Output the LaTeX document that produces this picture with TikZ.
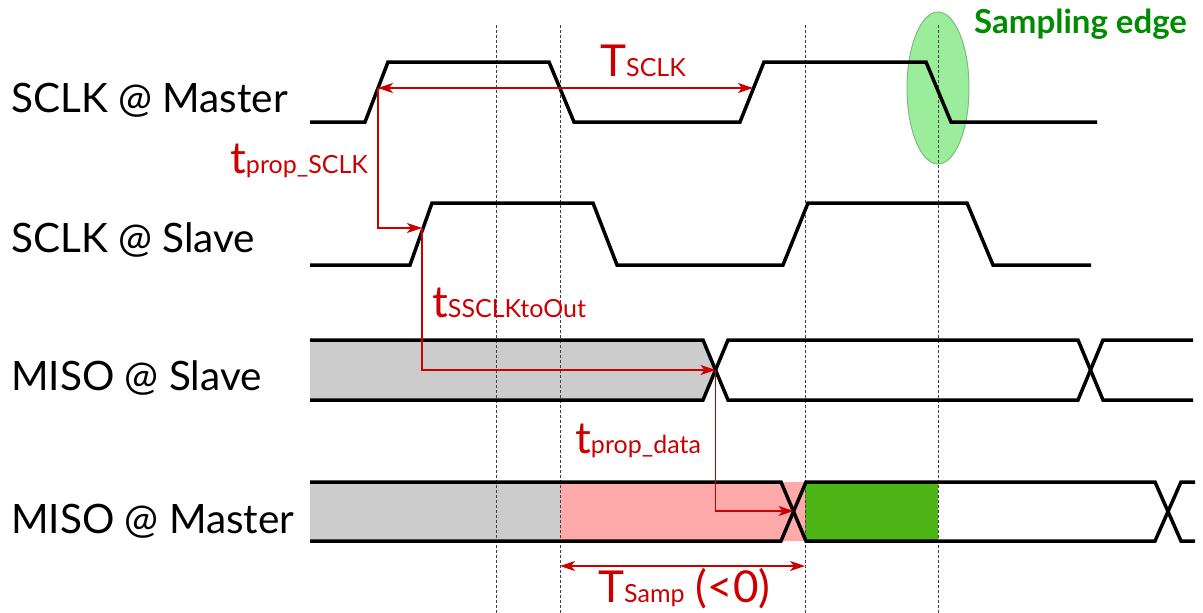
\documentclass[tikz,border=0pt]{standalone}
\usepackage{fontspec}
\setmainfont{Lato}
\usetikzlibrary{arrows.meta}

\newcommand{\siglabel}[1]{{\fontsize{40.5}{44}\selectfont #1}}
\newcommand{\tlabel}[2]{{\fontsize{44}{48}\selectfont #1}{\fontsize{25}{28}\selectfont #2}}

\begin{document}
\begin{tikzpicture}[x=1pt, y=-1pt]
        % Define colors for the zones
        \colorlet{annotcolor}{red!80!black}
        \colorlet{edgecolor}{green!55!black}
        \definecolor{holdcolor}{RGB}{204,204,204}
        \definecolor{setupcolor}{RGB}{255,170,170}
        \definecolor{validcolor}{RGB}{76,181,21}
        \definecolor{ovalcolor}{RGB}{155,236,155}

        \tikzset{
            wave/.style={line width=3.5pt},
            guide/.style={line width=0.9pt, black!75, dash pattern=on 3pt off 2pt},
            delay/.style={line width=1.3pt, annotcolor, -{Stealth[length=15pt, width=10pt, inset=4pt]}},
            span/.style={line width=1.3pt, annotcolor, {Stealth[length=15pt, width=10pt, inset=4pt]}-{Stealth[length=15pt, width=10pt, inset=4pt]}},
            lbl/.style={anchor=base west, inner sep=0pt},
        }

        \useasboundingbox[fill=white] (0,0) rectangle (1203,613);

        % 1. Data regions
        \fill[holdcolor] (310,340) -- (703,340) -- (715.5,370) -- (703,400) -- (310,400) -- cycle;
        \fill[holdcolor] (310,482) rectangle (560,541);
        \fill[setupcolor] (560,482) rectangle (805,541);
        \fill[validcolor] (805,482) rectangle (938,541);

        % Sampling edge marker
        \fill[ovalcolor, draw=ovalcolor!80!black, line width=1pt] (938,88) ellipse [x radius=31, y radius=76];
        \node[lbl, text=edgecolor, font=\fontsize{33}{36}\selectfont\bfseries] (sampedge) at (974,34) {Sampling edge};

        % Guide lines
        \foreach \gx in {496,560,805,938}
            \draw[guide] (\gx,25) -- (\gx,613);

        % 2. Signal names
        \node[lbl] (sclkm) at (11,112) {\siglabel{SCLK @ Master}};
        \node[lbl] (sclks) at (11,252) {\siglabel{SCLK @ Slave}};
        \node[lbl] (misos) at (11,390) {\siglabel{MISO @ Slave}};
        \node[lbl] (misom) at (11,533) {\siglabel{MISO @ Master}};

        % 3. Waveforms
        \draw[wave] (310,122) -- (365,122) -- (388,62) -- (549,62) -- (574,122) -- (740,122) -- (764,62) -- (926,62) -- (951,122) -- (1097,122);
        \draw[wave] (310,265) -- (410,265) -- (432,203) -- (593,203) -- (617,265) -- (783,265) -- (808,203) -- (967,203) -- (993,265) -- (1091,265);
        \draw[wave] (310,340) -- (703,340) -- (728,400) -- (1078,400) -- (1103,340) -- (1193,340);
        \draw[wave] (310,400) -- (703,400) -- (728,340) -- (1078,340) -- (1103,400) -- (1193,400);
        \draw[wave] (310,482) -- (781,482) -- (806,541) -- (1155,541) -- (1181,482) -- (1195,482);
        \draw[wave] (310,541) -- (781,541) -- (806,482) -- (1155,482) -- (1181,541) -- (1195,541);

        % 4. Timing arrows
        \coordinate (mrise) at (378,88);
        \coordinate (mnext) at (753,88);
        \coordinate (srise) at (422,228);
        \coordinate (scross) at (715.5,370);
        \coordinate (mcross) at (793.5,511);
        \coordinate (sampl) at (560,566);
        \coordinate (sampr) at (805,566);

        \draw[span] (mrise) -- (mnext);
        \draw[delay] (mrise) |- (srise);
        \draw[delay] (srise) |- (scross);
        \draw[delay] (scross) |- (mcross);
        \draw[span] (sampl) -- (sampr);

        \node[lbl, text=annotcolor] (tsclk) at (600,76) {\tlabel{T}{SCLK}};
        \node[lbl, text=annotcolor] (tprops) at (230,173) {\tlabel{t}{prop\_SCLK}};
        \node[lbl, text=annotcolor] (tout) at (432,317) {\tlabel{t}{SSCLKtoOut}};
        \node[lbl, text=annotcolor] (tpropd) at (575,453) {\tlabel{t}{prop\_data}};
        \node[lbl, text=annotcolor] (tsamp) at (598,602) {\tlabel{T}{Samp}{\fontsize{44}{48}\selectfont\ (<0)}};

    \end{tikzpicture}
\end{document}
